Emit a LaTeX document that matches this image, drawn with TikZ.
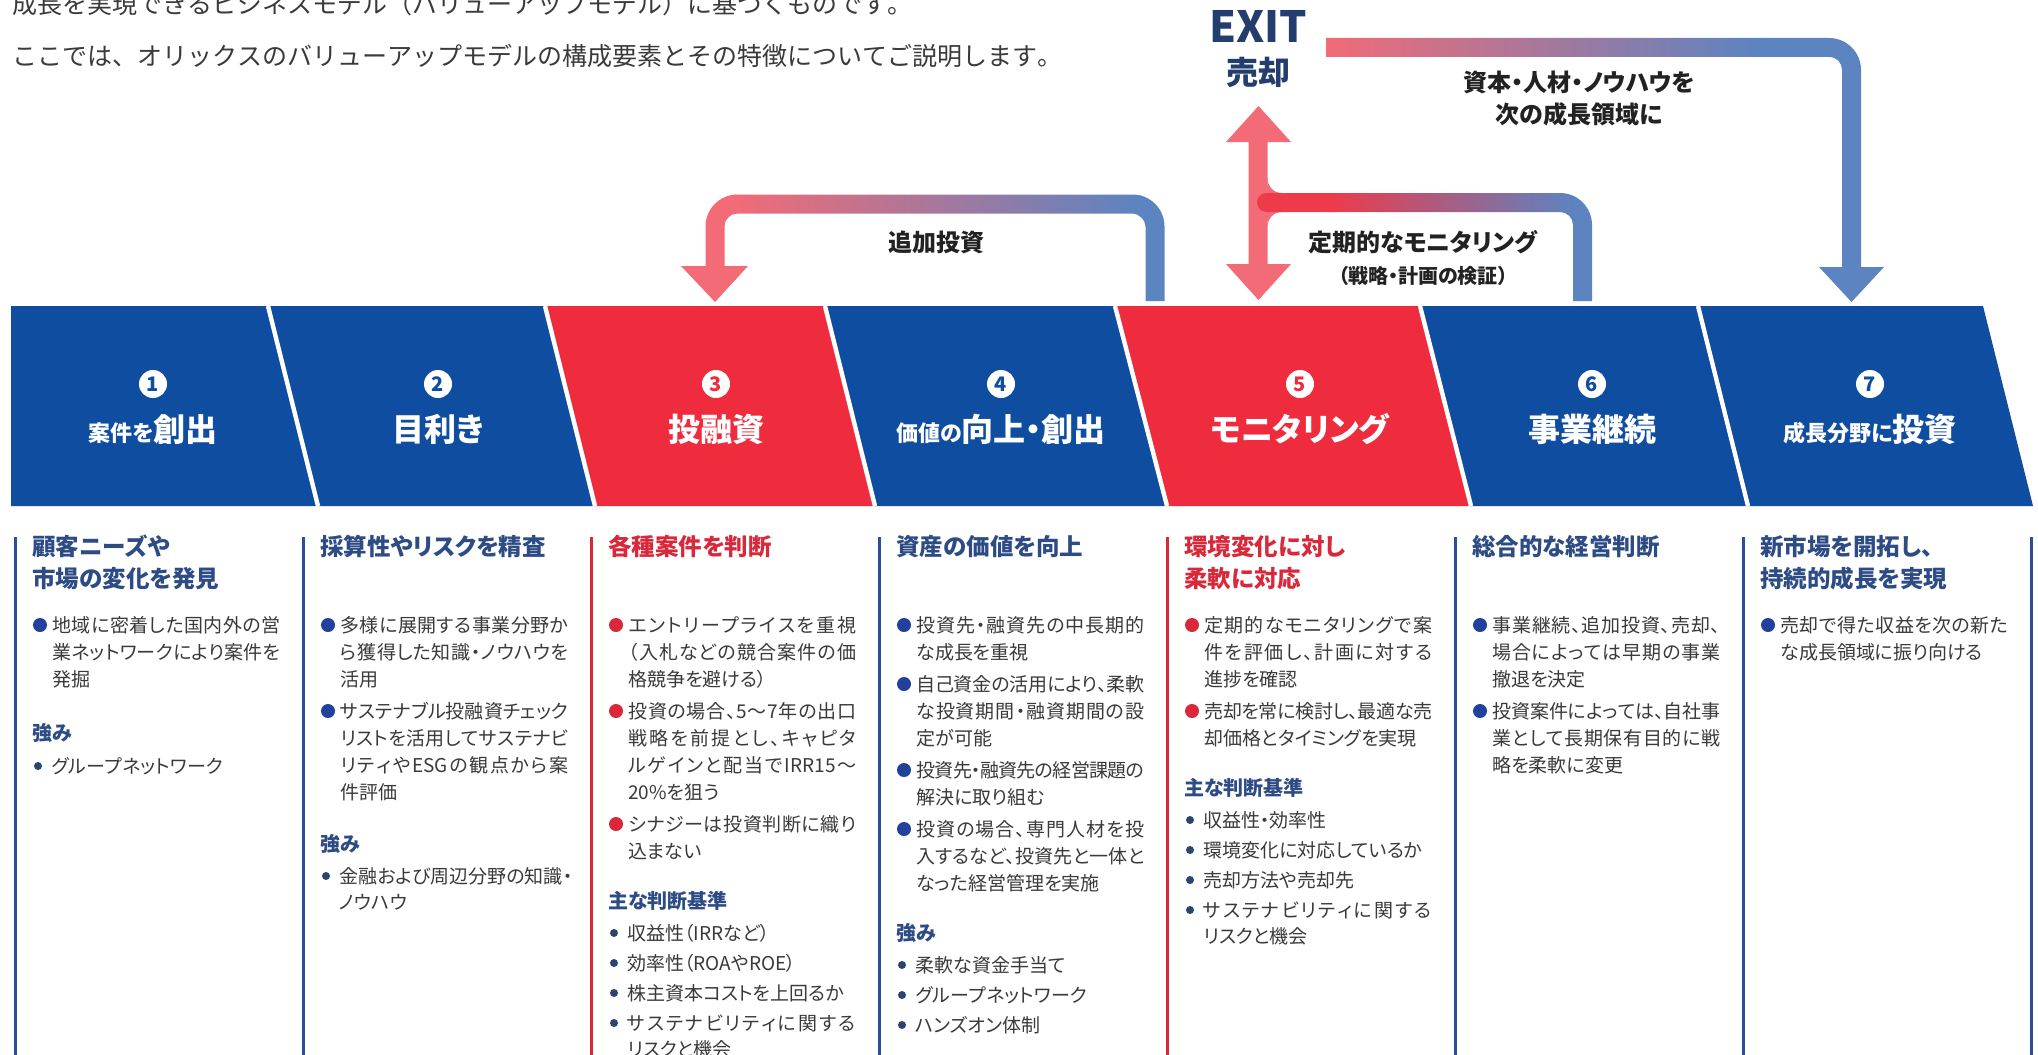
\documentclass[tikz,border=0pt]{standalone}
\usepackage{fontspec}
\setmainfont{Noto Sans CJK JP}[RawFeature={+palt}]
\newfontfamily\jpw{Noto Sans CJK JP}
\XeTeXinterchartokenstate=1
\chardef\CJKcls=7
\makeatletter
\count@="3000
\loop\XeTeXcharclass\count@=\CJKcls\relax\ifnum\count@<"30FF\relax\advance\count@\@ne\repeat
\count@="4E00
\loop\XeTeXcharclass\count@=\CJKcls\relax\ifnum\count@<"9FFF\relax\advance\count@\@ne\repeat
\count@="FF00
\loop\XeTeXcharclass\count@=\CJKcls\relax\ifnum\count@<"FFEF\relax\advance\count@\@ne\repeat
\makeatother
\XeTeXinterchartoks\CJKcls\CJKcls={\hskip0pt plus 3pt minus 1pt\relax}
\XeTeXinterchartoks\CJKcls 0={\hskip0pt plus 3pt minus 1pt\relax}
\XeTeXinterchartoks 0\CJKcls={\hskip0pt plus 3pt minus 1pt\relax}
\newcommand\JL[1]{\hbox to 114pt{#1}}
\newcommand\fbody{\fontsize{9.5pt}{9.5pt}\selectfont}
\newcommand\fhead{\fontsize{11.75pt}{11.75pt}\selectfont\bfseries}
\newcommand\fsubh{\fontsize{10pt}{10pt}\selectfont\bfseries}
\newcommand\flg{\fontsize{16pt}{16pt}\selectfont\bfseries}
\newcommand\fsm{\fontsize{11pt}{11pt}\selectfont\bfseries}
\definecolor{bandblue}{HTML}{0F4DA0}
\definecolor{bandred}{HTML}{EE2C3E}
\definecolor{navyhead}{HTML}{2D4B84}
\definecolor{redhead}{HTML}{D9283A}
\definecolor{dotblue}{HTML}{22419A}
\definecolor{dotred}{HTML}{D8283A}
\definecolor{sdotc}{HTML}{2C446F}
\definecolor{bodytxt}{HTML}{3A3A3A}
\definecolor{lineblue}{HTML}{2E4C9C}
\definecolor{linered}{HTML}{D8283A}
\definecolor{exitc}{HTML}{233E6C}
\definecolor{lbltxt}{HTML}{222222}
\definecolor{introtxt}{HTML}{3A3A3A}
\definecolor{arrpink}{HTML}{F26B77}
\definecolor{arrdeep}{HTML}{EE3A4B}
\definecolor{arrpurple}{HTML}{B0699B}
\definecolor{arrblue}{HTML}{5B84C1}
\tikzset{
 body/.style={anchor=base west, inner sep=0pt, font=\fbody, text=bodytxt},
 headB/.style={anchor=base west, inner sep=0pt, font=\fhead, text=navyhead},
 headR/.style={headB, text=redhead},
 subh/.style={anchor=base west, inner sep=0pt, font=\fsubh, text=navyhead},
 dotB/.style={circle, fill=dotblue, inner sep=0pt, minimum size=7pt},
 dotR/.style={dotB, fill=dotred},
 sdot/.style={circle, fill=sdotc, inner sep=0pt, minimum size=4pt},
 numc/.style={circle, fill=white, inner sep=0pt, minimum size=14pt, font=\fontsize{10pt}{10pt}\selectfont\bfseries},
 lab/.style={anchor=base, inner sep=0pt, text=white},
 albl/.style={anchor=base, inner sep=0pt, font=\bfseries\fontsize{12pt}{12pt}\selectfont, text=lbltxt},
 intro/.style={anchor=base west, inner sep=0pt, font=\jpw\fontsize{12.5pt}{12.5pt}\selectfont, text=introtxt},
 colB/.style={draw=lineblue, line width=1.5pt},
 colR/.style={draw=linered, line width=1.5pt},
 divider/.style={draw=white, line width=2.2pt}
}
\begin{document}
\begin{tikzpicture}[x=0.5pt,y=-0.5pt]
\useasboundingbox (0,0) rectangle (2038,1054);
\clip (0,0) rectangle (2038,1054);
\fill[white] (0,0) rectangle (2038,1054);

% intro text
\node[intro] (intro1) at (12,14) {成長を実現できるビジネスモデル（バリューアップモデル）に基づくものです。};
\node[intro] (intro2) at (12,66) {ここでは、オリックスのバリューアップモデルの構成要素とその特徴についてご説明します。};

% EXIT
\node[anchor=base, inner sep=0pt, font=\bfseries\fontsize{21.5pt}{21.5pt}\selectfont, text=exitc] (exit) at (1258,43) {EXIT};
\node[anchor=base, inner sep=0pt, font=\bfseries\fontsize{16pt}{16pt}\selectfont, text=exitc] (sell) at (1258,84) {売却};

% arrow: 追加投資
\begin{scope}
\clip (724.5,266) -- (748,266) -- (715,302) -- (681,266) -- (705.5,266) -- (705.5,226.5)
 .. controls (705.5,208.8) and (719.8,194.5) .. (737.5,194.5) -- (1132.5,194.5)
 .. controls (1150.2,194.5) and (1164.5,208.8) .. (1164.5,226.5) -- (1164.5,301) -- (1145.5,301) -- (1145.5,226.5)
 .. controls (1145.5,219.3) and (1138.3,213.5) .. (1132.5,213.5) -- (737.5,213.5)
 .. controls (730.3,213.5) and (724.5,219.3) .. (724.5,226.5) -- cycle;
\fill[arrpink] (670,180) rectangle (736,310);
\shade[left color=arrpink, middle color=arrpurple, right color=arrblue] (735,180) rectangle (1141,310);
\fill[arrblue] (1140,180) rectangle (1175,310);
\end{scope}
\node[albl] (lbladd) at (936,251) {追加投資};

% arrow: 資本・人材・ノウハウ
\begin{scope}
\clip (1326,38) -- (1829,38) .. controls (1846.7,38) and (1861,52.3) .. (1861,70) -- (1861,267) -- (1884,267)
 -- (1851.5,302) -- (1819,267) -- (1842,267) -- (1842,70) .. controls (1842,62.8) and (1836.8,57) .. (1829,57)
 -- (1326,57) -- cycle;
\shade[left color=arrpink, middle color=arrpurple, right color=arrblue] (1326,30) rectangle (1761,320);
\fill[arrblue] (1760,30) rectangle (1900,320);
\end{scope}
\node[albl] (lblcap1) at (1579,91) {資本・人材・ノウハウを};
\node[albl] (lblcap2) at (1579,124) {次の成長領域に};

% arrow: monitoring (double arrow + branch)
\fill[arrpink] (1248.5,142) -- (1226,142) -- (1258.5,106) -- (1291,142) -- (1267.5,142) -- (1267.5,264)
 -- (1291,264) -- (1258.5,300) -- (1226,264) -- (1248.5,264) -- cycle;
\fill[arrpink] (1267.5,178) .. controls (1267.5,186) and (1273.3,193) .. (1281.5,193) -- (1267,193) -- cycle;
\fill[arrpink] (1267.5,227) .. controls (1267.5,219) and (1273.3,212) .. (1281.5,212) -- (1267,212) -- cycle;
\begin{scope}
\clip (1266.5,193) -- (1560,193) .. controls (1577.7,193) and (1592,207.3) .. (1592,225) -- (1592,301)
 -- (1573,301) -- (1573,225) .. controls (1573,217.8) and (1567.2,212) .. (1560,212) -- (1266.5,212)
 .. controls (1261.3,212) and (1257,207.7) .. (1257,202.5) .. controls (1257,197.3) and (1261.3,193) .. (1266.5,193) -- cycle;
\fill[arrdeep] (1250,180) rectangle (1331,310);
\shade[left color=arrdeep, middle color=arrpurple, right color=arrblue] (1330,180) rectangle (1576,310);
\fill[arrblue] (1575,180) rectangle (1600,310);
\end{scope}
\node[albl] (lblmon1) at (1423,251) {定期的なモニタリング};
\node[albl, font=\bfseries\fontsize{10pt}{10pt}\selectfont] (lblmon2) at (1423,283) {（戦略・計画の検証）};

% band
\fill[bandblue] (11,306) -- (268,306) -- (318,506) -- (11,506) -- cycle;
\fill[bandblue] (268,306) -- (545,306) -- (595,506) -- (318,506) -- cycle;
\fill[bandred] (545,306) -- (825,306) -- (875,506) -- (595,506) -- cycle;
\fill[bandblue] (825,306) -- (1115,306) -- (1167,506) -- (875,506) -- cycle;
\fill[bandred] (1115,306) -- (1420,306) -- (1471,506) -- (1167,506) -- cycle;
\fill[bandblue] (1420,306) -- (1698,306) -- (1748,506) -- (1471,506) -- cycle;
\fill[bandblue] (1698,306) -- (1983,306) -- (2033,506) -- (1748,506) -- cycle;
\draw[divider] (268,306) -- (318,506);
\draw[divider] (545,306) -- (595,506);
\draw[divider] (825,306) -- (875,506);
\draw[divider] (1115,306) -- (1167,506);
\draw[divider] (1420,306) -- (1471,506);
\draw[divider] (1698,306) -- (1748,506);

\node[numc, text=bandblue] (n1) at (153,384) {1};
\node[numc, text=bandblue] (n2) at (438,384) {2};
\node[numc, text=bandred] (n3) at (716,384) {3};
\node[numc, text=bandblue] (n4) at (1001,384) {4};
\node[numc, text=bandred] (n5) at (1300,384) {5};
\node[numc, text=bandblue] (n6) at (1592,384) {6};
\node[numc, text=bandblue] (n7) at (1870,384) {7};
\node[lab] (t1) at (153,441) {{\fsm 案件を}{\flg 創出}};
\node[lab] (t2) at (438,441) {{\flg 目利き}};
\node[lab] (t3) at (716,441) {{\flg 投融資}};
\node[lab] (t4) at (1001,441) {{\fsm 価値の}{\flg 向上・創出}};
\node[lab] (t5) at (1300,441) {{\flg モニタリング}};
\node[lab] (t6) at (1592,441) {{\flg 事業継続}};
\node[lab] (t7) at (1870,441) {{\fsm 成長分野に}{\flg 投資}};

% column lines
\draw[colB] (15,537) -- (15,1060);
\draw[colB] (303,537) -- (303,1060);
\draw[colR] (591,537) -- (591,1060);
\draw[colB] (879,537) -- (879,1060);
\draw[colR] (1167,537) -- (1167,1060);
\draw[colB] (1455,537) -- (1455,1060);
\draw[colB] (1743,537) -- (1743,1060);
\draw[colB] (2031,537) -- (2031,1060);

% column 1
\begin{scope}[shift={(15,0)}]
\node[headB] (a-h1) at (17,555.5) {顧客ニーズや};
\node[headB] (a-h2) at (17,587.5) {市場の変化を発見};
\node[dotB] (a-d1) at (25,625) {};
\node[body] (a-b1) at (37,632) {\JL{地域に密着した国内外の営}};
\node[body] (a-b2) at (37,659) {\JL{業ネットワークにより案件を}};
\node[body] (a-b3) at (37,686) {発掘};
\node[subh] (a-s) at (17,740) {強み};
\node[sdot] (a-e1) at (23,766) {};
\node[body] (a-u1) at (36,773) {グループネットワーク};
\end{scope}

% column 2
\begin{scope}[shift={(303,0)}]
\node[headB] (b-h1) at (17,555.5) {採算性やリスクを精査};
\node[dotB] (b-d1) at (25,625) {};
\node[body] (b-b1) at (37,632) {\JL{多様に展開する事業分野か}};
\node[body] (b-b2) at (37,659) {\JL{ら獲得した知識・ノウハウを}};
\node[body] (b-b3) at (37,686) {活用};
\node[dotB] (b-d2) at (25,711) {};
\node[body] (b-b4) at (37,718) {\JL{サステナブル投融資チェック}};
\node[body] (b-b5) at (37,745) {\JL{リストを活用してサステナビ}};
\node[body] (b-b6) at (37,772) {\JL{リティやESGの観点から案}};
\node[body] (b-b7) at (37,799) {件評価};
\node[subh] (b-s) at (17,851) {強み};
\node[sdot] (b-e1) at (23,876) {};
\node[body] (b-u1) at (36,883) {金融および周辺分野の知識・};
\node[body] (b-u2) at (36,909) {ノウハウ};
\end{scope}

% column 3
\begin{scope}[shift={(591,0)}]
\node[headR] (c-h1) at (17,555.5) {各種案件を判断};
\node[dotR] (c-d1) at (25,625) {};
\node[body] (c-b1) at (37,632) {\JL{エントリープライスを重視}};
\node[body] (c-b2) at (37,659) {\JL{（入札などの競合案件の価}};
\node[body] (c-b3) at (37,686) {格競争を避ける）};
\node[dotR] (c-d2) at (25,711) {};
\node[body] (c-b4) at (37,718) {\JL{投資の場合、5〜7年の出口}};
\node[body] (c-b5) at (37,745) {\JL{戦略を前提とし、キャピタ}};
\node[body] (c-b6) at (37,772) {\JL{ルゲインと配当でIRR15〜}};
\node[body] (c-b7) at (37,799) {20\%を狙う};
\node[dotR] (c-d3) at (25,824) {};
\node[body] (c-b8) at (37,831) {\JL{シナジーは投資判断に織り}};
\node[body] (c-b9) at (37,858) {込まない};
\node[subh] (c-s) at (17,908) {主な判断基準};
\node[sdot] (c-e1) at (23,933) {};
\node[body] (c-u1) at (36,940) {収益性（IRRなど）};
\node[sdot] (c-e2) at (23,963) {};
\node[body] (c-u2) at (36,970) {効率性（ROAやROE）};
\node[sdot] (c-e3) at (23,993) {};
\node[body] (c-u3) at (36,1000) {株主資本コストを上回るか};
\node[sdot] (c-e4) at (23,1023) {};
\node[body] (c-u4) at (36,1030) {\JL{サステナビリティに関する}};
\node[body] (c-u5) at (36,1056) {リスクと機会};
\end{scope}

% column 4
\begin{scope}[shift={(879,0)}]
\node[headB] (d-h1) at (17,555.5) {資産の価値を向上};
\node[dotB] (d-d1) at (25,625) {};
\node[body] (d-b1) at (37,632) {\JL{投資先・融資先の中長期的}};
\node[body] (d-b2) at (37,659) {な成長を重視};
\node[dotB] (d-d2) at (25,684) {};
\node[body] (d-b3) at (37,691) {\JL{自己資金の活用により、柔軟}};
\node[body] (d-b4) at (37,718) {\JL{な投資期間・融資期間の設}};
\node[body] (d-b5) at (37,745) {定が可能};
\node[dotB] (d-d3) at (25,770) {};
\node[body] (d-b6) at (37,777) {\JL{投資先・融資先の経営課題の}};
\node[body] (d-b7) at (37,804) {解決に取り組む};
\node[dotB] (d-d4) at (25,829) {};
\node[body] (d-b8) at (37,836) {\JL{投資の場合、専門人材を投}};
\node[body] (d-b9) at (37,863) {\JL{入するなど、投資先と一体と}};
\node[body] (d-b10) at (37,890) {なった経営管理を実施};
\node[subh] (d-s) at (17,940) {強み};
\node[sdot] (d-e1) at (23,965) {};
\node[body] (d-u1) at (36,972) {柔軟な資金手当て};
\node[sdot] (d-e2) at (23,995) {};
\node[body] (d-u2) at (36,1002) {グループネットワーク};
\node[sdot] (d-e3) at (23,1025) {};
\node[body] (d-u3) at (36,1032) {ハンズオン体制};
\end{scope}

% column 5
\begin{scope}[shift={(1167,0)}]
\node[headR] (e-h1) at (17,555.5) {環境変化に対し};
\node[headR] (e-h2) at (17,587.5) {柔軟に対応};
\node[dotR] (e-d1) at (25,625) {};
\node[body] (e-b1) at (37,632) {\JL{定期的なモニタリングで案}};
\node[body] (e-b2) at (37,659) {\JL{件を評価し、計画に対する}};
\node[body] (e-b3) at (37,686) {進捗を確認};
\node[dotR] (e-d2) at (25,711) {};
\node[body] (e-b4) at (37,718) {\JL{売却を常に検討し、最適な売}};
\node[body] (e-b5) at (37,745) {却価格とタイミングを実現};
\node[subh] (e-s) at (17,795) {主な判断基準};
\node[sdot] (e-e1) at (23,820) {};
\node[body] (e-u1) at (36,827) {収益性・効率性};
\node[sdot] (e-e2) at (23,850) {};
\node[body] (e-u2) at (36,857) {環境変化に対応しているか};
\node[sdot] (e-e3) at (23,880) {};
\node[body] (e-u3) at (36,887) {売却方法や売却先};
\node[sdot] (e-e4) at (23,910) {};
\node[body] (e-u4) at (36,917) {\JL{サステナビリティに関する}};
\node[body] (e-u5) at (36,943) {リスクと機会};
\end{scope}

% column 6
\begin{scope}[shift={(1455,0)}]
\node[headB] (f-h1) at (17,555.5) {総合的な経営判断};
\node[dotB] (f-d1) at (25,625) {};
\node[body] (f-b1) at (37,632) {\JL{事業継続、追加投資、売却、}};
\node[body] (f-b2) at (37,659) {\JL{場合によっては早期の事業}};
\node[body] (f-b3) at (37,686) {撤退を決定};
\node[dotB] (f-d2) at (25,711) {};
\node[body] (f-b4) at (37,718) {\JL{投資案件によっては、自社事}};
\node[body] (f-b5) at (37,745) {\JL{業として長期保有目的に戦}};
\node[body] (f-b6) at (37,772) {略を柔軟に変更};
\end{scope}

% column 7
\begin{scope}[shift={(1743,0)}]
\node[headB] (g-h1) at (17,555.5) {新市場を開拓し、};
\node[headB] (g-h2) at (17,587.5) {持続的成長を実現};
\node[dotB] (g-d1) at (25,625) {};
\node[body] (g-b1) at (37,632) {\JL{売却で得た収益を次の新た}};
\node[body] (g-b2) at (37,659) {な成長領域に振り向ける};
\end{scope}
\end{tikzpicture}
\end{document}
